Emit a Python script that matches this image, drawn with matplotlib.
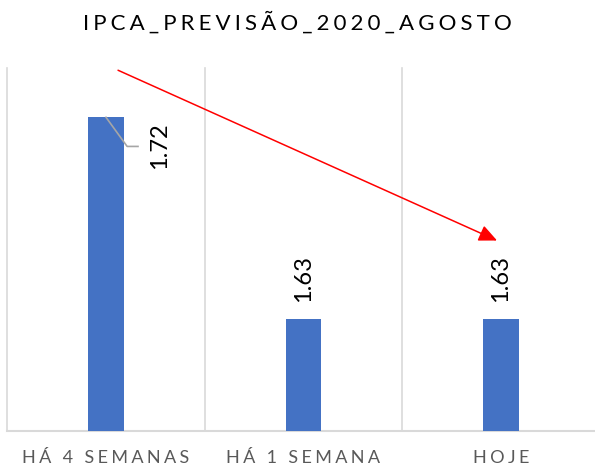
import numpy as np
import matplotlib
matplotlib.use("Agg")
import matplotlib.pyplot as plt

# Chart data
categories = ["HÁ 4 SEMANAS", "HÁ 1 SEMANA", "HOJE"]
values = [1.72, 1.63, 1.63]
title = "IPCA_PREVISÃO_2020_AGOSTO"

FONT = ["Lato", "DejaVu Sans"]
BAR_COLOR = "#4472C4"
GRID_COLOR = "#D9D9D9"

def Spaced(text, sep="\u2009\u200a"):
    # imitate Excel character spacing
    return sep.join(text)

fig = plt.figure(figsize=(5.95, 4.73), dpi=100)
ax = fig.add_axes([7.25 / 595, 42 / 473, 592.5 / 595, 363 / 473])

x = np.arange(len(categories))
ax.bar(x, values, width=0.18, color=BAR_COLOR, zorder=3)

ax.set_xlim(-0.5, len(categories) - 0.5)
ax.set_ylim(1.58, 1.742)

# vertical separators between categories
for b in np.arange(-0.5, len(categories), 1.0):
    ax.axvline(b, color=GRID_COLOR, linewidth=1.2, zorder=1, clip_on=False)
ax.axhline(1.58, color=GRID_COLOR, linewidth=1.5, zorder=2, clip_on=False)

for s in ax.spines.values():
    s.set_visible(False)
ax.set_yticks([])
ax.set_xticks(x)
ax.set_xticklabels([Spaced(c) for c in categories], family=FONT, fontsize=13, color="#595959")
ax.tick_params(axis="x", length=0, pad=14)

# data labels
for i, v in enumerate(values):
    if i == 0:
        ax.plot([x[i], x[i] + 0.107, x[i] + 0.162], [v, v - 0.013, v - 0.013],
                color="#A6A6A6", linewidth=1.2, zorder=4, clip_on=False)
        ax.text(x[i] + 0.273, v - 0.0125, f"{v:.2f}", rotation=90, ha="center", va="center",
                family=FONT, fontsize=17, color="black")
    else:
        ax.annotate(f"{v:.2f}", (x[i], v), xytext=(0, 12), textcoords="offset points",
                    rotation=90, ha="center", va="bottom", family=FONT, fontsize=17, color="black")

# red trend arrow
ax.annotate("", xy=(1.98, 1.665), xytext=(0.061, 1.741), xycoords="data",
            arrowprops=dict(arrowstyle="-|>,head_length=1.1,head_width=0.5", color="red",
                            linewidth=1.1, shrinkA=0, shrinkB=0),
            annotation_clip=False, zorder=5)

fig.text(0.5, 1 - 22 / 473, Spaced(title), ha="center", va="center",
         family=FONT, fontsize=16, color="black")

fig.savefig("out.png", dpi=100)
